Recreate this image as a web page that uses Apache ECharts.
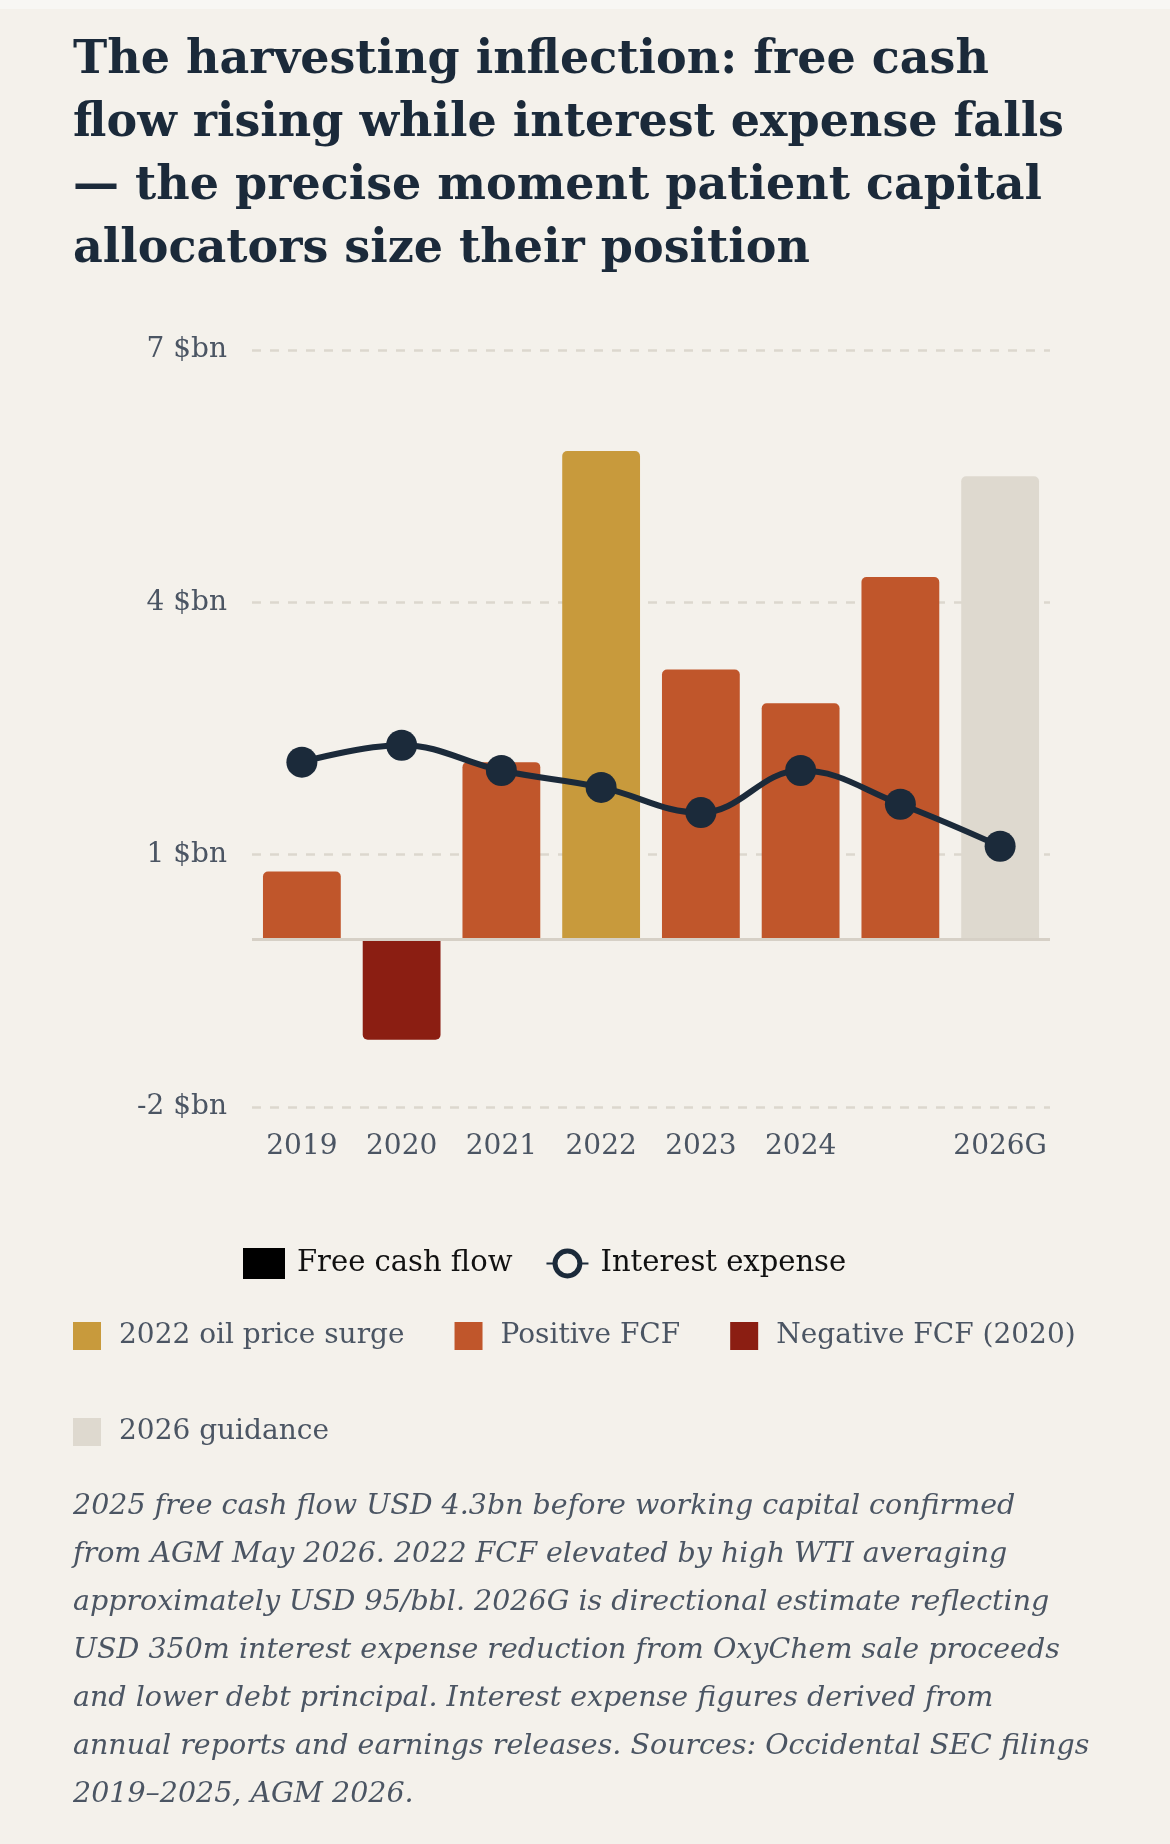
<!DOCTYPE html>
<html>
<head>
<meta charset="utf-8">
<title>Harvesting inflection</title>
<script src="https://cdn.jsdelivr.net/npm/echarts@6/dist/echarts.min.js"></script>
<style>
  html, body { margin: 0; padding: 0; background: #f4f1eb; }
  #chart { width: 1170px; height: 1844px; }
</style>
</head>
<body>
<div id="chart"></div>
<script>
// values in $bn
const years = ["2019", "2020", "2021", "2022", "2023", "2024", "2025", "2026G"]
const freeCashFlow = [0.8, -1.2, 2.1, 5.8, 3.2, 2.8, 4.3, 5.5]
const interestExpense = [2.1, 2.3, 2.0, 1.8, 1.5, 2.0, 1.6, 1.1]
// which legend group each bar belongs to
const barKind = ["pos", "neg", "pos", "surge", "pos", "pos", "pos", "guide"]
const yTicks = { min: -2, max: 7, step: 3 }

const kindNames = {
  surge: "2022 oil price surge",
  pos: "Positive FCF",
  neg: "Negative FCF (2020)",
  guide: "2026 guidance",
}
const kindColors = {
  surge: "#c89a3c",
  pos: "#c0562b",
  neg: "#8b1e12",
  guide: "#ded9cf",
}

const serif = "DejaVu Serif"
const ink = "#1b2a3a"
const slate = "#4b5563"

const titleText = [
  "The harvesting inflection: free cash",
  "flow rising while interest expense falls",
  "\u2014 the precise moment patient capital",
  "allocators size their position",
].join("\n")

const noteText = [
  "2025 free cash flow USD 4.3bn before working capital confirmed",
  "from AGM May 2026. 2022 FCF elevated by high WTI averaging",
  "approximately USD 95/bbl. 2026G is directional estimate reflecting",
  "USD 350m interest expense reduction from OxyChem sale proceeds",
  "and lower debt principal. Interest expense figures derived from",
  "annual reports and earnings releases. Sources: Occidental SEC filings",
  "2019\u20132025, AGM 2026.",
].join("\n")

const barData = freeCashFlow.map((v, i) => ({
  value: v,
  itemStyle: {
    color: kindColors[barKind[i]],
    borderRadius: v < 0 ? [0, 0, 5, 5] : [5, 5, 0, 0],
  },
}))

// empty series, only there to feed the colour legend
const kindSeries = ["surge", "pos", "neg", "guide"].map(k => ({
  name: kindNames[k],
  type: "bar",
  stack: "fcf",
  data: [],
  itemStyle: { color: kindColors[k] },
}))

const chart = echarts.init(document.getElementById("chart"))
chart.setOption({
  backgroundColor: "#f4f1eb",
  animation: false,
  graphic: [
    { type: "rect", shape: { x: 0, y: 0, width: 1170, height: 9 }, style: { fill: "#f8f7f4" } },
  ],
  title: [
    {
      text: titleText,
      left: 73,
      top: 30,
      padding: 0,
      textStyle: {
        fontFamily: serif,
        fontWeight: "bold",
        fontSize: 46,
        lineHeight: 63,
        color: ink,
      },
    },
    {
      text: noteText,
      left: 73,
      top: 1483,
      padding: 0,
      textStyle: {
        fontFamily: serif,
        fontStyle: "italic",
        fontWeight: "normal",
        fontSize: 28.5,
        lineHeight: 48,
        color: slate,
      },
    },
  ],
  legend: [
    {
      left: 243,
      top: 1248,
      padding: 0,
      itemWidth: 42,
      itemHeight: 31,
      itemGap: 33,
      selectedMode: false,
      data: [
        { name: "Free cash flow", icon: "rect" },
        {
          name: "Interest expense",
          itemStyle: { color: "#f4f1eb", borderColor: ink, borderWidth: 5 },
        },
      ],
      textStyle: { fontFamily: serif, fontSize: 29, color: "#111111", padding: [0, 0, 0, 7] },
    },
    {
      left: 73,
      top: 1313,
      padding: 0,
      itemWidth: 28,
      itemHeight: 28,
      itemGap: 50,
      icon: "rect",
      selectedMode: false,
      data: [kindNames.surge, kindNames.pos, kindNames.neg, "", kindNames.guide],
      textStyle: { fontFamily: serif, fontSize: 28, color: slate, lineHeight: 46, padding: [0, 0, 0, 13] },
    },
  ],
  grid: { left: 252, right: 120, top: 350, bottom: 737 },
  xAxis: {
    type: "category",
    data: years,
    axisLine: { show: false, onZero: false },
    axisTick: { show: false },
    axisLabel: {
      margin: 26,
      fontFamily: serif,
      fontSize: 28,
      color: slate,
      interval: (idx, val) => val !== "2025",
    },
  },
  yAxis: {
    type: "value",
    min: yTicks.min,
    max: yTicks.max,
    interval: yTicks.step,
    axisLine: { show: false },
    axisTick: { show: false },
    axisLabel: {
      margin: 25,
      fontFamily: serif,
      fontSize: 28,
      color: slate,
      formatter: "{value} $bn",
    },
    splitLine: {
      lineStyle: { color: "#dcd7ce", width: 2.5, type: [9, 9] },
    },
  },
  series: [
    {
      name: "Free cash flow",
      type: "bar",
      stack: "fcf",
      barWidth: "78%",
      itemStyle: { color: "#000000" },
      data: barData,
      markLine: {
        silent: true,
        symbol: "none",
        label: { show: false },
        lineStyle: { type: "solid", color: "#d6d0c6", width: 3 },
        data: [{ yAxis: 0 }],
      },
    },
    ...kindSeries,
    {
      name: "Interest expense",
      type: "line",
      smooth: 0.4,
      data: interestExpense,
      symbol: "circle",
      symbolSize: 31,
      z: 5,
      lineStyle: { color: ink, width: 6 },
      itemStyle: { color: ink },
    },
  ],
})
</script>
</body>
</html>
